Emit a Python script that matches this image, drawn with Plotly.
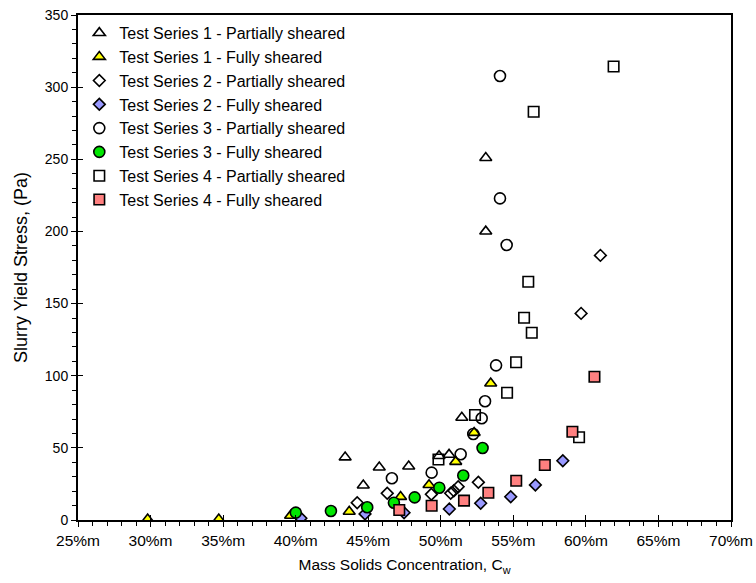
import plotly.graph_objects as go

# Mass solids concentration (%) and slurry yield stress (Pa) per test series
s1_partial_x = [53.1, 53.1, 51.45, 49.88, 50.57, 43.41, 45.76, 47.79, 44.66]
s1_partial_y = [251, 200, 71, 44.4, 45.3, 43.5, 36.5, 37.2, 24.0]

s1_full_x = [29.8, 34.7, 39.65, 43.69, 47.23, 49.19, 51.03, 52.3, 53.44]
s1_full_y = [0.5, 0.5, 3.0, 5.8, 16.1, 24.3, 40.4, 60.5, 94.7]

s2_partial_x = [61.0, 59.67, 52.59, 51.2, 50.68, 50.9, 49.35, 46.31, 44.24]
s2_partial_y = [183.4, 143.2, 26.1, 23.1, 18.5, 20.2, 17.8, 18.5, 12.0]

s2_full_x = [40.36, 44.78, 47.47, 50.59, 52.75, 54.82, 56.52, 58.41]
s2_full_y = [1.2, 4.2, 5.0, 7.6, 11.6, 16.1, 24.3, 41.1]

s3_partial_x = [54.08, 54.08, 54.54, 53.81, 53.05, 52.82, 52.24, 51.37, 49.37, 46.63]
s3_partial_y = [307.7, 222.9, 190.6, 107.2, 82.3, 70.5, 59.6, 45.6, 32.8, 28.9]

s3_full_x = [40.01, 42.43, 44.93, 46.77, 48.2, 49.9, 51.55, 52.88]
s3_full_y = [5.1, 6.2, 8.8, 12.0, 15.7, 22.4, 30.8, 49.9]

s4_partial_x = [61.91, 56.4, 56.03, 55.74, 56.27, 55.19, 54.57, 52.36, 59.53, 49.84]
s4_partial_y = [314.3, 282.9, 165.1, 140.2, 129.8, 109.3, 88.2, 72.8, 57.3, 41.9]

s4_full_x = [47.14, 49.37, 51.6, 53.28, 55.2, 57.17, 59.07, 60.59]
s4_full_y = [6.9, 9.9, 13.4, 18.9, 27.2, 38.1, 61.2, 99.3]

x_ticks = [25, 30, 35, 40, 45, 50, 55, 60, 65, 70]
x_tick_labels = [f"{v}%m" for v in x_ticks]
y_ticks = [0, 50, 100, 150, 200, 250, 300, 350]

FONT = "Arial, Liberation Sans, sans-serif"

series = [
    ("Test Series 1 - Partially sheared", s1_partial_x, s1_partial_y, "triangle-up-open", "black", 10.5),
    ("Test Series 1 - Fully sheared", s1_full_x, s1_full_y, "triangle-up", "#ffff00", 10.5),
    ("Test Series 2 - Partially sheared", s2_partial_x, s2_partial_y, "diamond-open", "black", 9),
    ("Test Series 2 - Fully sheared", s2_full_x, s2_full_y, "diamond", "#9999ff", 9),
    ("Test Series 3 - Partially sheared", s3_partial_x, s3_partial_y, "circle-open", "black", 11),
    ("Test Series 3 - Fully sheared", s3_full_x, s3_full_y, "circle", "#00e600", 11),
    ("Test Series 4 - Partially sheared", s4_partial_x, s4_partial_y, "square-open", "black", 10.5),
    ("Test Series 4 - Fully sheared", s4_full_x, s4_full_y, "square", "#ff8080", 10.5),
]

fig = go.Figure()
for name, xs, ys, sym, col, size in series:
    marker = dict(symbol=sym, size=size, color=col, line=dict(color="black", width=1.6))
    fig.add_trace(go.Scatter(x=xs, y=ys, mode="markers", name=name, marker=marker))

# empty trace carrying the inward half of the crossing major ticks
fig.add_trace(go.Scatter(x=[], y=[], xaxis="x2", yaxis="y2", showlegend=False))

axis_common = dict(showgrid=False, zeroline=False, linecolor="black", linewidth=2,
                   ticks="outside", ticklen=5, tickwidth=1.2, tickcolor="black",
                   automargin=False)

fig.update_layout(
    width=756, height=583,
    margin=dict(l=78, r=25, t=15, b=63),
    paper_bgcolor="white", plot_bgcolor="white",
    font=dict(family=FONT, size=14, color="black"),
    showlegend=True,
    legend=dict(x=0.002, y=0.998, xanchor="left", yanchor="top",
                bgcolor="rgba(0,0,0,0)", font=dict(family=FONT, size=16, color="black"),
                itemwidth=30),
    xaxis=dict(range=[25, 70], tickvals=x_ticks, ticktext=x_tick_labels, mirror=True,
               tickfont=dict(family=FONT, size=15.5, color="black"),
               minor=dict(dtick=1, ticks="outside", ticklen=4, tickwidth=1, tickcolor="black"),
               title=dict(text="Mass Solids Concentration, C<sub>w</sub>",
                          font=dict(family=FONT, size=15.5, color="black"), standoff=12),
               **axis_common),
    yaxis=dict(range=[0, 350], tickvals=y_ticks, mirror=True,
               tickfont=dict(family=FONT, size=14, color="black"),
               minor=dict(dtick=10, ticks="outside", ticklen=4, tickwidth=1, tickcolor="black"),
               title=dict(text="Slurry Yield Stress, (Pa)",
                          font=dict(family=FONT, size=18, color="black"), standoff=13),
               **axis_common),
    xaxis2=dict(range=[25, 70], overlaying="x", anchor="y2", tickvals=x_ticks,
                ticks="inside", ticklen=5, tickwidth=1.2, tickcolor="black",
                showticklabels=False, showgrid=False, zeroline=False, showline=False),
    yaxis2=dict(range=[0, 350], overlaying="y", anchor="x2", tickvals=y_ticks,
                ticks="inside", ticklen=5, tickwidth=1.2, tickcolor="black",
                showticklabels=False, showgrid=False, zeroline=False, showline=False),
)

fig.write_html("out.html")
